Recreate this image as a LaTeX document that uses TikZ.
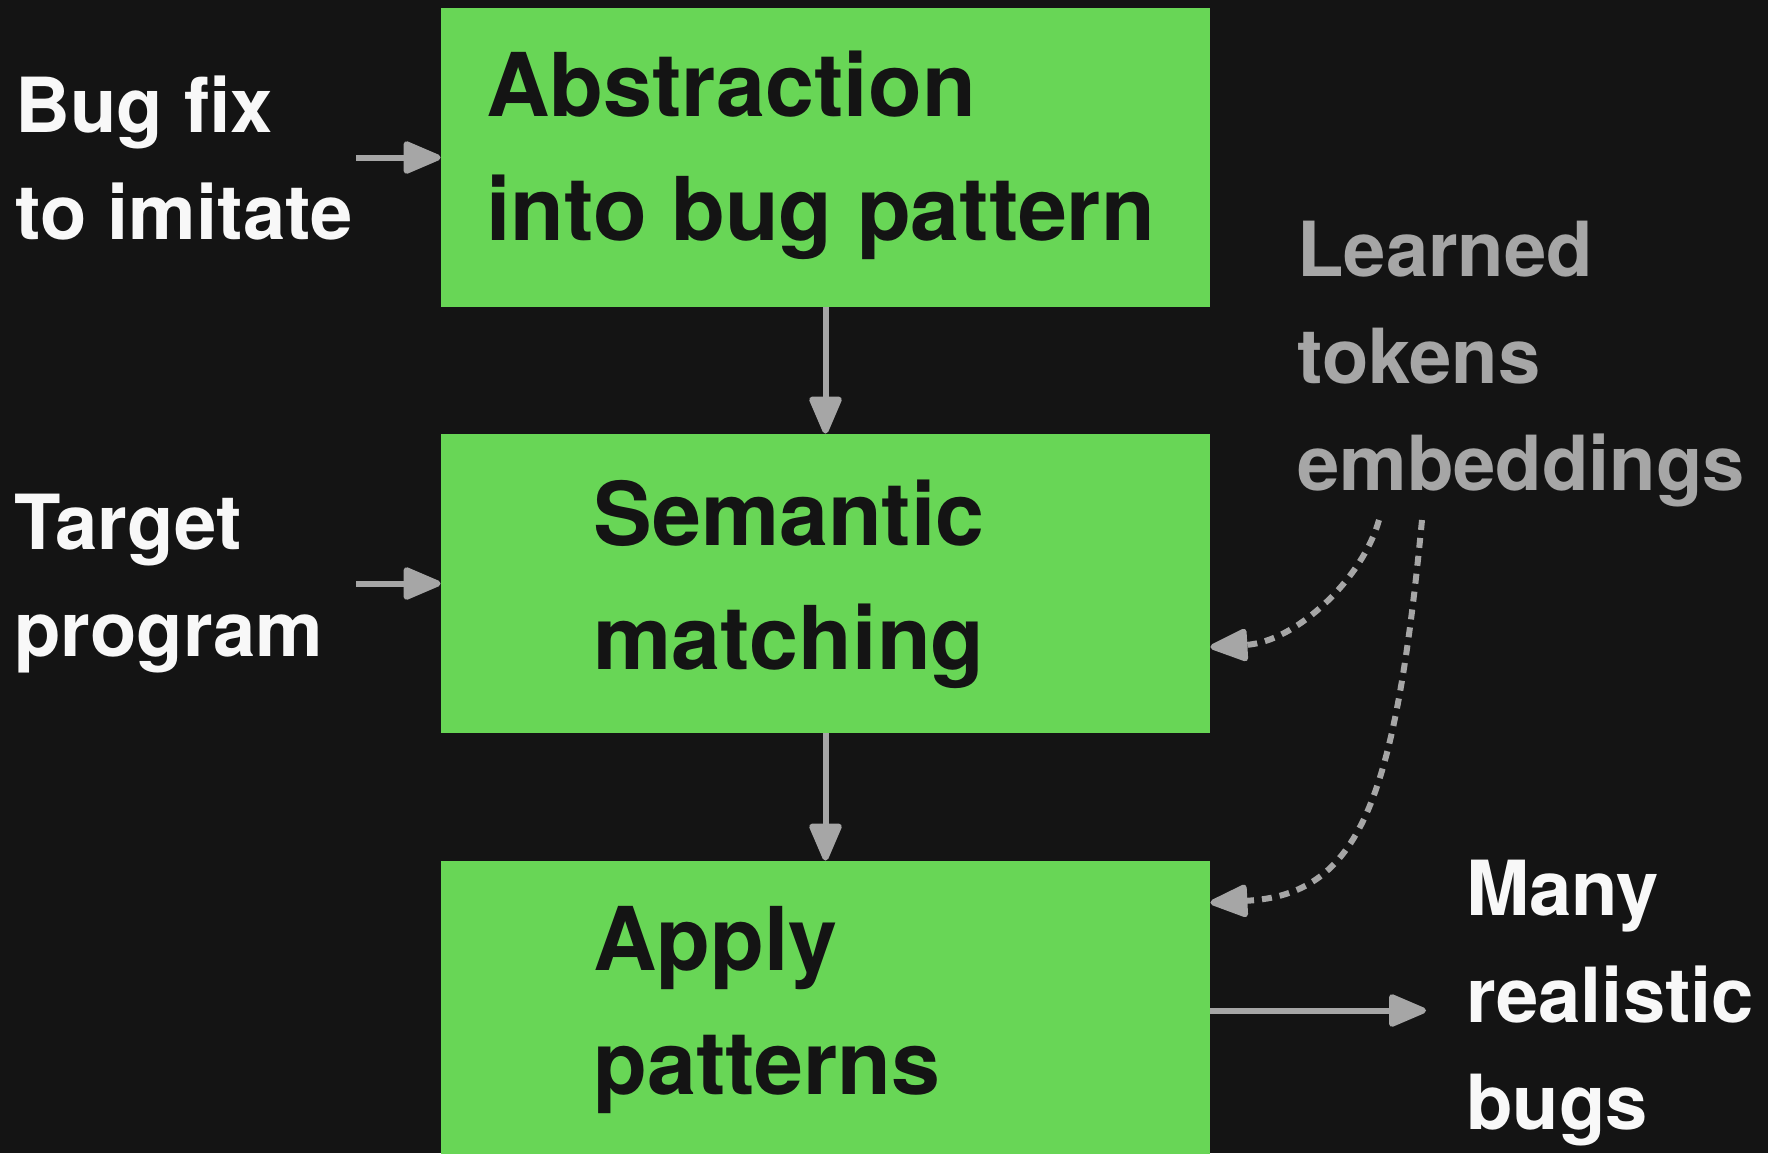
\documentclass[tikz,border=0pt]{standalone}
\usepackage{fontspec}
\setmainfont{TeX Gyre Heros}
\usetikzlibrary{arrows.meta,calc}
\definecolor{bg}{HTML}{141414}
\definecolor{boxgreen}{HTML}{68D656}
\definecolor{arrgray}{HTML}{A6A6A6}
\definecolor{txtwhite}{HTML}{F8F8F8}
\tikzset{
  stagebox/.style={rectangle, fill=boxgreen, draw=none, minimum width=384.5pt, minimum height=149.5pt, inner sep=0pt},
  boxtext/.style={anchor=base west, inner sep=0pt, align=left, text=bg, font=\fontsize{44}{62}\bfseries\selectfont},
  sidetext/.style={anchor=base west, inner sep=0pt, align=left, text=txtwhite, font=\fontsize{38}{53.5}\bfseries\selectfont},
  graytext/.style={anchor=base west, inner sep=0pt, align=left, text=arrgray, font=\fontsize{38}{53.5}\bfseries\selectfont},
  flow/.style={draw=arrgray, line width=3pt, -{Triangle[length=21pt,width=17pt,round]}},
  dotflow/.style={flow, dash pattern=on 5pt off 4pt}
}
\begin{document}
\begin{tikzpicture}[x=0.5pt,y=-0.5pt]
\fill[bg] (0,0) rectangle (1768,1153);
\useasboundingbox (0,0) rectangle (1768,1153);
\clip (0,0) rectangle (1768,1153);
% boxes
\node[stagebox] (b1) at (825.5,157.5) {};
\node[stagebox] (b2) at (825.5,583.5) {};
\node[stagebox] (b3) at (825.5,1010.5) {};
% box texts (anchored at the baseline of the last line)
\node[boxtext] (t1) at (486,240) {Abstraction\\into bug pattern};
\node[boxtext] (t2) at (593,669) {Semantic\\matching};
\node[boxtext] (t3) at (593,1094) {Apply\\patterns};
% side texts
\node[sidetext] (in1) at (15,239) {Bug fix\\to imitate};
\node[sidetext] (in2) at (14,656) {Target\\program};
\node[graytext] (emb) at (1297,490) {Learned\\tokens\\embeddings};
\node[sidetext] (out) at (1466,1129) {Many\\realistic\\bugs};
% coordinates
\coordinate (a1) at (356,157.5);
\coordinate (a2) at (356,583.5);
\coordinate (a3) at (1426,1010.5);
\coordinate (d1) at (1379,520);
\coordinate (d2) at (1422,520);
% connectors
\draw[flow] (a1) -- (b1.west);
\draw[flow] (a2) -- (b2.west);
\draw[flow] (b1.south) -- (b2.north);
\draw[flow] (b2.south) -- (b3.north);
\draw[flow] (b3.east) -- (a3);
\draw[dotflow] (d1) .. controls (1362,580) and (1295,642) .. ($(b2.east)+(0,63.5)$);
\draw[dotflow] (d2) .. controls (1395,800) and (1360,895) .. ($(b3.north east)+(0,42)$);
\end{tikzpicture}
\end{document}
